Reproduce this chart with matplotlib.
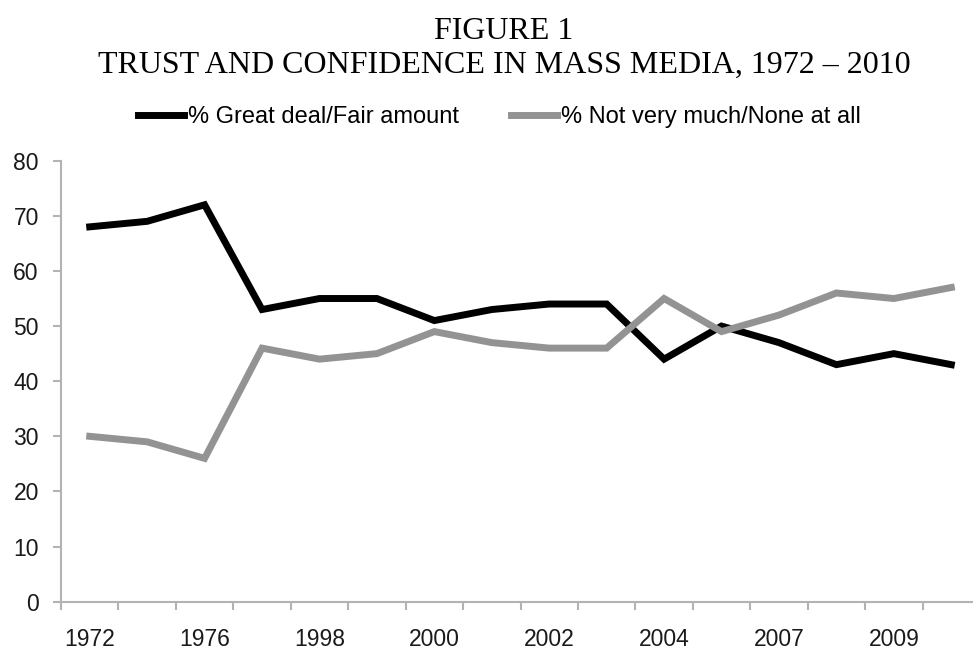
import matplotlib
matplotlib.use('Agg')
import matplotlib.pyplot as plt
import numpy as np

years = ['1972', '1974', '1976', '1997', '1998', '1999', '2000', '2001',
         '2002', '2003', '2004', '2005', '2007', '2008', '2009', '2010']
great_fair = [68, 69, 72, 53, 55, 55, 51, 53, 54, 54, 44, 50, 47, 43, 45, 43]
not_much = [30, 29, 26, 46, 44, 45, 49, 47, 46, 46, 55, 49, 52, 56, 55, 57]
shown_labels = ['1972', '1976', '1998', '2000', '2002', '2004', '2007', '2009']

AXIS_GREY = '#b3b3b3'

fig = plt.figure(figsize=(9.73, 6.52), dpi=100)
ax = fig.add_axes([61 / 973, 50.3 / 652, 919 / 973, 441 / 652])

x = np.arange(len(years))
ax.plot(x, great_fair, color='black', linewidth=5, solid_joinstyle='miter',
        label='% Great deal/Fair amount')
ax.plot(x, not_much, color='#939393', linewidth=5, solid_joinstyle='miter',
        label='% Not very much/None at all')

ax.set_xlim(-0.5, len(years) - 0.5)
ax.set_ylim(0, 80)
ax.set_yticks(range(0, 81, 10))

# category boundaries get the tick marks, labels sit at every other category
ax.set_xticks(np.arange(-0.5, len(years), 1.0))
ax.set_xticklabels([])
label_pos = [years.index(y) for y in shown_labels]
ax.set_xticks(label_pos, minor=True)
ax.set_xticklabels(shown_labels, minor=True)
ax.tick_params(axis='x', which='major', length=6, width=1.5, color=AXIS_GREY)
ax.tick_params(axis='x', which='minor', length=0, pad=19, labelsize=16.5)
ax.tick_params(axis='y', length=6, width=1.5, color=AXIS_GREY, pad=10, labelsize=16.5)

for side in ['top', 'right']:
    ax.spines[side].set_visible(False)
for side in ['left', 'bottom']:
    ax.spines[side].set_color(AXIS_GREY)
    ax.spines[side].set_linewidth(1.5)

for lbl in ax.get_xticklabels(minor=True) + ax.get_yticklabels():
    lbl.set_family('Liberation Sans')
    lbl.set_color('#1a1a1a')

fig.legend(loc='center', bbox_to_anchor=(499 / 973, 1 - 117 / 652), ncol=2,
           frameon=False, handlelength=1.95, handletextpad=0.17, columnspacing=2.2,
           prop={'family': 'Liberation Sans', 'size': 17})

fig.text(504 / 973, 1 - 31.5 / 652, 'FIGURE 1', ha='center', va='center',
         family='Liberation Serif', fontsize=23)
fig.text(504 / 973, 1 - 65 / 652, 'TRUST AND CONFIDENCE IN MASS MEDIA, 1972 \u2013 2010',
         ha='center', va='center', family='Liberation Serif', fontsize=23)

plt.savefig('out.png', dpi=100)
plt.close()
